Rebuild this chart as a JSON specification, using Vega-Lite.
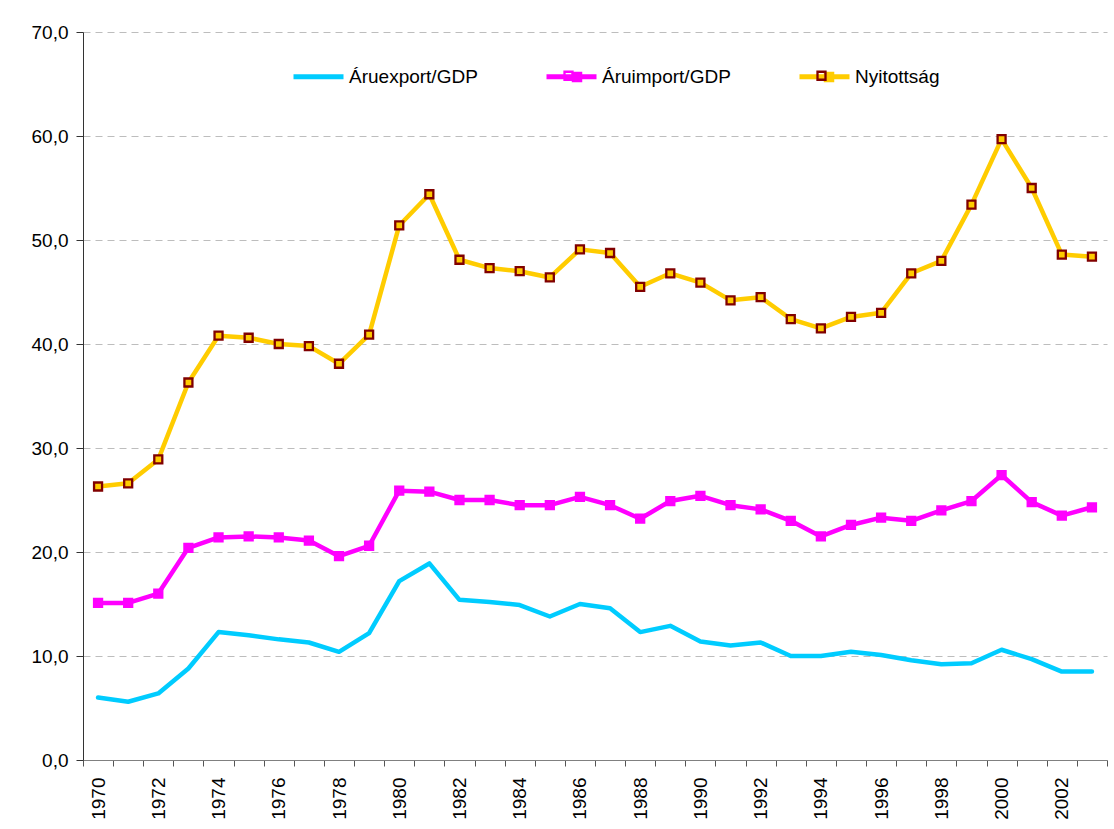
{
  "$schema": "https://vega.github.io/schema/vega-lite/v6.json",
  "width": 1024,
  "height": 728,
  "autosize": "none",
  "padding": {"left": 83, "top": 32, "right": 7, "bottom": 69},
  "background": "white",
  "config": {
    "view": {"stroke": null},
    "font": "Liberation Sans"
  },
  "data": {"values": [
    {"year":1970,"series":"Áruexport/GDP","value":6.0},{"year":1971,"series":"Áruexport/GDP","value":5.6},{"year":1972,"series":"Áruexport/GDP","value":6.4},{"year":1973,"series":"Áruexport/GDP","value":8.8},{"year":1974,"series":"Áruexport/GDP","value":12.3},{"year":1975,"series":"Áruexport/GDP","value":12.0},{"year":1976,"series":"Áruexport/GDP","value":11.6},{"year":1977,"series":"Áruexport/GDP","value":11.3},{"year":1978,"series":"Áruexport/GDP","value":10.4},{"year":1979,"series":"Áruexport/GDP","value":12.2},{"year":1980,"series":"Áruexport/GDP","value":17.2},{"year":1981,"series":"Áruexport/GDP","value":18.9},{"year":1982,"series":"Áruexport/GDP","value":15.4},{"year":1983,"series":"Áruexport/GDP","value":15.2},{"year":1984,"series":"Áruexport/GDP","value":14.9},{"year":1985,"series":"Áruexport/GDP","value":13.8},{"year":1986,"series":"Áruexport/GDP","value":15.0},{"year":1987,"series":"Áruexport/GDP","value":14.6},{"year":1988,"series":"Áruexport/GDP","value":12.3},{"year":1989,"series":"Áruexport/GDP","value":12.9},{"year":1990,"series":"Áruexport/GDP","value":11.4},{"year":1991,"series":"Áruexport/GDP","value":11.0},{"year":1992,"series":"Áruexport/GDP","value":11.3},{"year":1993,"series":"Áruexport/GDP","value":10.0},{"year":1994,"series":"Áruexport/GDP","value":10.0},{"year":1995,"series":"Áruexport/GDP","value":10.4},{"year":1996,"series":"Áruexport/GDP","value":10.1},{"year":1997,"series":"Áruexport/GDP","value":9.6},{"year":1998,"series":"Áruexport/GDP","value":9.2},{"year":1999,"series":"Áruexport/GDP","value":9.3},{"year":2000,"series":"Áruexport/GDP","value":10.6},{"year":2001,"series":"Áruexport/GDP","value":9.7},{"year":2002,"series":"Áruexport/GDP","value":8.5},{"year":2003,"series":"Áruexport/GDP","value":8.5},
    {"year":1970,"series":"Áruimport/GDP","value":15.1},{"year":1971,"series":"Áruimport/GDP","value":15.1},{"year":1972,"series":"Áruimport/GDP","value":16.0},{"year":1973,"series":"Áruimport/GDP","value":20.4},{"year":1974,"series":"Áruimport/GDP","value":21.4},{"year":1975,"series":"Áruimport/GDP","value":21.5},{"year":1976,"series":"Áruimport/GDP","value":21.4},{"year":1977,"series":"Áruimport/GDP","value":21.1},{"year":1978,"series":"Áruimport/GDP","value":19.6},{"year":1979,"series":"Áruimport/GDP","value":20.6},{"year":1980,"series":"Áruimport/GDP","value":25.9},{"year":1981,"series":"Áruimport/GDP","value":25.8},{"year":1982,"series":"Áruimport/GDP","value":25.0},{"year":1983,"series":"Áruimport/GDP","value":25.0},{"year":1984,"series":"Áruimport/GDP","value":24.5},{"year":1985,"series":"Áruimport/GDP","value":24.5},{"year":1986,"series":"Áruimport/GDP","value":25.3},{"year":1987,"series":"Áruimport/GDP","value":24.5},{"year":1988,"series":"Áruimport/GDP","value":23.2},{"year":1989,"series":"Áruimport/GDP","value":24.9},{"year":1990,"series":"Áruimport/GDP","value":25.4},{"year":1991,"series":"Áruimport/GDP","value":24.5},{"year":1992,"series":"Áruimport/GDP","value":24.1},{"year":1993,"series":"Áruimport/GDP","value":23.0},{"year":1994,"series":"Áruimport/GDP","value":21.5},{"year":1995,"series":"Áruimport/GDP","value":22.6},{"year":1996,"series":"Áruimport/GDP","value":23.3},{"year":1997,"series":"Áruimport/GDP","value":23.0},{"year":1998,"series":"Áruimport/GDP","value":24.0},{"year":1999,"series":"Áruimport/GDP","value":24.9},{"year":2000,"series":"Áruimport/GDP","value":27.4},{"year":2001,"series":"Áruimport/GDP","value":24.8},{"year":2002,"series":"Áruimport/GDP","value":23.5},{"year":2003,"series":"Áruimport/GDP","value":24.3},
    {"year":1970,"series":"Nyitottság","value":26.3},{"year":1971,"series":"Nyitottság","value":26.6},{"year":1972,"series":"Nyitottság","value":28.9},{"year":1973,"series":"Nyitottság","value":36.3},{"year":1974,"series":"Nyitottság","value":40.8},{"year":1975,"series":"Nyitottság","value":40.6},{"year":1976,"series":"Nyitottság","value":40.0},{"year":1977,"series":"Nyitottság","value":39.8},{"year":1978,"series":"Nyitottság","value":38.1},{"year":1979,"series":"Nyitottság","value":40.9},{"year":1980,"series":"Nyitottság","value":51.4},{"year":1981,"series":"Nyitottság","value":54.4},{"year":1982,"series":"Nyitottság","value":48.1},{"year":1983,"series":"Nyitottság","value":47.3},{"year":1984,"series":"Nyitottság","value":47.0},{"year":1985,"series":"Nyitottság","value":46.4},{"year":1986,"series":"Nyitottság","value":49.1},{"year":1987,"series":"Nyitottság","value":48.75},{"year":1988,"series":"Nyitottság","value":45.5},{"year":1989,"series":"Nyitottság","value":46.8},{"year":1990,"series":"Nyitottság","value":45.9},{"year":1991,"series":"Nyitottság","value":44.2},{"year":1992,"series":"Nyitottság","value":44.5},{"year":1993,"series":"Nyitottság","value":42.4},{"year":1994,"series":"Nyitottság","value":41.5},{"year":1995,"series":"Nyitottság","value":42.6},{"year":1996,"series":"Nyitottság","value":43.0},{"year":1997,"series":"Nyitottság","value":46.8},{"year":1998,"series":"Nyitottság","value":48.0},{"year":1999,"series":"Nyitottság","value":53.4},{"year":2000,"series":"Nyitottság","value":59.7},{"year":2001,"series":"Nyitottság","value":55.0},{"year":2002,"series":"Nyitottság","value":48.6},{"year":2003,"series":"Nyitottság","value":48.4}
  ]},
  "encoding": {
    "x": {
      "field": "year", "type": "ordinal",
      "scale": {"type": "band", "paddingInner": 0, "paddingOuter": 0},
      "bandPosition": 0.5,
      "axis": {
        "title": null, "tickBand": "extent", "grid": false,
        "labelExpr": "datum.value % 2 == 0 ? datum.label : ''",
        "labelAngle": 270, "labelAlign": "right", "labelBaseline": "middle",
        "labelFont": "Liberation Sans", "labelFontSize": 19, "labelColor": "#000",
        "labelPadding": 11, "tickSize": 6, "tickColor": "#555", "domainColor": "#808080", "labelOverlap": false
      }
    },
    "y": {
      "field": "value", "type": "quantitative",
      "scale": {"domain": [0, 70], "nice": false, "zero": true},
      "axis": {
        "title": null, "values": [0,10,20,30,40,50,60,70],
        "labelExpr": "replace(format(datum.value, '.1f'), '.', ',')",
        "labelFont": "Liberation Sans", "labelFontSize": 19, "labelColor": "#000",
        "labelPadding": 8, "tickSize": 7, "tickColor": "#333", "domainColor": "#333",
        "grid": true, "gridColor": "#BDBDBD", "gridDash": [7, 5], "gridWidth": 1
      }
    }
  },
  "layer": [
    {
      "mark": {"type": "line", "strokeWidth": 4.5, "strokeJoin": "round", "strokeCap": "round"},
      "encoding": {
        "color": {
          "field": "series", "type": "nominal",
          "scale": {"domain": ["Áruexport/GDP", "Áruimport/GDP", "Nyitottság"], "range": ["#00CCFF", "#FF00FF", "#FFCC00"]},
          "legend": {
            "title": null, "orient": "none", "legendX": 208, "legendY": 17, "direction": "horizontal", "columns": 3,
            "columnPadding": 58, "labelOffset": 3, "symbolType": "stroke", "symbolSize": 2500, "symbolStrokeWidth": 5,
            "labelFont": "Liberation Sans", "labelFontSize": 19, "labelColor": "#000"
          }
        }
      }
    },
    {
      "mark": {"type": "point", "shape": "square", "filled": true, "size": 64, "strokeWidth": 2.3, "opacity": 1},
      "encoding": {
        "fill": {
          "field": "series", "type": "nominal", "sort": ["Áruexport/GDP", "Áruimport/GDP", "Nyitottság"],
          "scale": {"range": ["transparent", "#FF00FF", "#FFCC00"]},
          "legend": {
            "title": null, "orient": "none", "legendX": 217, "legendY": 20, "direction": "horizontal", "columns": 3,
            "columnPadding": 70, "labelOffset": 3, "symbolType": "M-1,0L-1,0M1,0L1,0M-0.21,-0.21H0.21V0.21H-0.21Z", "symbolSize": 2500, "symbolStrokeWidth": 0,
            "symbolStrokeColor": "transparent",
            "labelFont": "Liberation Sans", "labelFontSize": 19, "labelColor": "transparent"
          }
        },
        "stroke": {
          "field": "series", "type": "nominal", "sort": "y",
          "scale": {"range": ["transparent", "#FF00FF", "#800000"]},
          "legend": {
            "title": null, "orient": "none", "legendX": 206, "legendY": 17, "direction": "horizontal", "columns": 3,
            "columnPadding": 64, "labelOffset": 3, "symbolType": "M-1,0L-1,0M1,0L1,0M-0.16,-0.16H0.16V0.16H-0.16Z", "symbolSize": 2500, "symbolStrokeWidth": 2.3,
            "symbolFillColor": "transparent",
            "labelFont": "Liberation Sans", "labelFontSize": 19, "labelColor": "transparent"
          }
        }
      }
    }
  ]
}
